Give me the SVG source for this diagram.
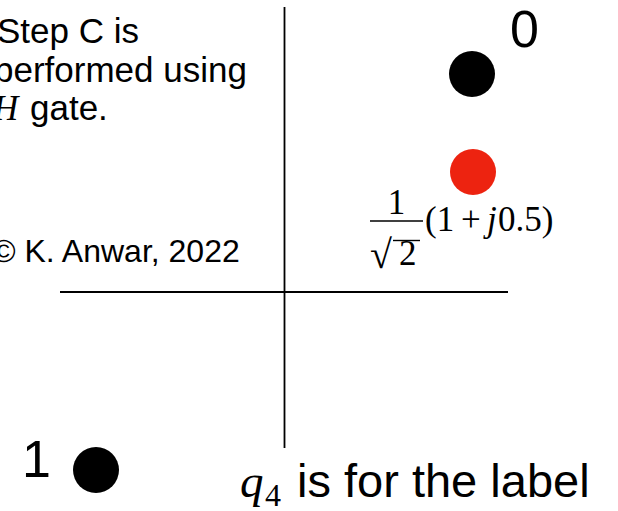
<svg xmlns="http://www.w3.org/2000/svg" width="618" height="511" viewBox="0 0 618 511">
<style>
.sans{font-family:"Liberation Sans",Arial,sans-serif;fill:#000}
.serif{font-family:"Liberation Serif","Times New Roman",serif;fill:#000}
.it{font-style:italic}
.axis{stroke:#000;stroke-width:1.8;fill:none}
.rule{stroke:#000;stroke-width:1.4}
.dot{fill:#000}
.red{fill:#ED2310}
</style>
<rect width="618" height="511" fill="#fff"/>
<g id="connectors">
<line class="axis" x1="284.5" y1="7" x2="284.5" y2="448"/>
<line class="axis" x1="60" y1="292" x2="508" y2="292"/>
</g>
<g id="note">
<text class="sans" font-size="35" x="-3" y="43">Step C is</text>
<text class="sans" font-size="35" x="-6" y="82">performed using</text>
<text class="sans" font-size="35" y="120"><tspan class="serif it" x="-7">H</tspan><tspan x="30">gate.</tspan></text>
<text class="sans" font-size="32" x="-8" y="262">© K. Anwar, 2022</text>
</g>
<g id="state0">
<circle class="dot" cx="472" cy="74" r="23"/>
<text class="sans" font-size="52" x="510" y="47">0</text>
</g>
<g id="stateH">
<circle class="red" cx="473" cy="172" r="23"/>
<text class="serif" font-size="35" x="396.5" y="214" text-anchor="middle">1</text>
<line class="rule" x1="370" y1="221" x2="423" y2="221"/>
<text class="serif" font-size="40" x="370" y="268">√</text>
<line class="rule" x1="393" y1="240.5" x2="420" y2="240.5"/>
<text class="serif" font-size="35" x="399" y="265">2</text>
<text class="serif" font-size="35" y="231"><tspan x="425">(1</tspan><tspan x="461">+</tspan><tspan class="it" x="487">j</tspan><tspan x="498">0.5)</tspan></text>
</g>
<g id="state1">
<circle class="dot" cx="96" cy="470" r="23"/>
<text class="sans" font-size="52" x="22" y="477">1</text>
</g>
<g id="label">
<text class="serif it" font-size="47" x="240" y="497">q</text>
<text class="serif" font-size="32" x="265" y="506">4</text>
<text class="sans" font-size="47" x="297" y="497">is for the label</text>
</g>
</svg>
